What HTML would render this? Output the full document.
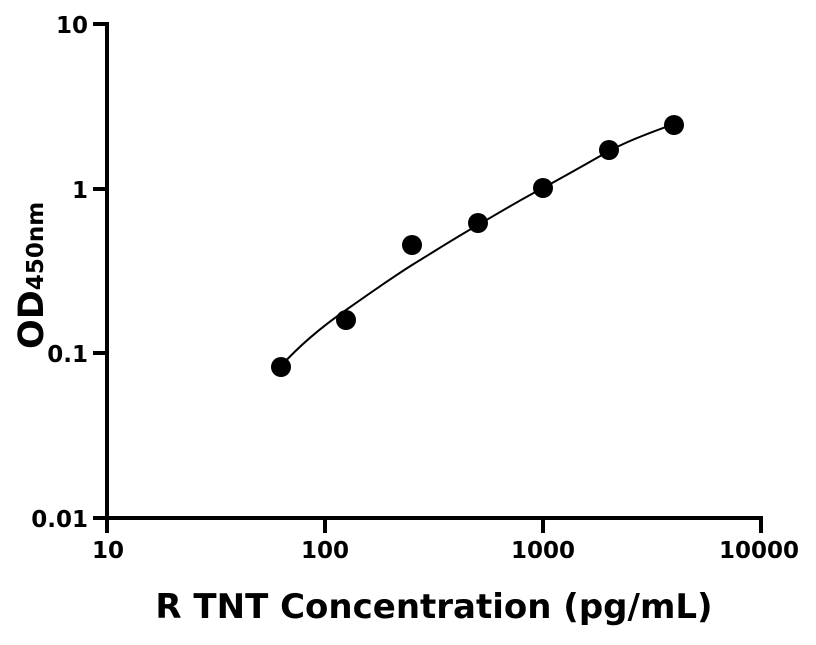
<!DOCTYPE html>
<html><head><style>
html,body{margin:0;padding:0;background:#fff}
svg text{font-family:"DejaVu Sans","Liberation Sans",sans-serif;font-weight:bold;fill:#000}
</style></head><body>
<svg width="816" height="640" viewBox="0 0 816 640">
<g stroke="#000" stroke-width="4" fill="none" stroke-linecap="square">
<line x1="107" y1="24" x2="107" y2="518"/>
<line x1="107" y1="518" x2="761" y2="518"/>
<line x1="95" y1="24" x2="107" y2="24"/>
<line x1="95" y1="189" x2="107" y2="189"/>
<line x1="95" y1="353" x2="107" y2="353"/>
<line x1="95" y1="518" x2="107" y2="518"/>
<line x1="107" y1="518" x2="107" y2="531"/>
<line x1="325" y1="518" x2="325" y2="531"/>
<line x1="543" y1="518" x2="543" y2="531"/>
<line x1="761" y1="518" x2="761" y2="531"/>
</g>
<g font-size="23" text-anchor="end">
<text x="88" y="33">10</text>
<text x="88" y="198">1</text>
<text x="88" y="362">0.1</text>
<text x="88" y="527">0.01</text>
</g>
<g font-size="23" text-anchor="middle">
<text x="108" y="558">10</text>
<text x="325" y="558">100</text>
<text x="543" y="558">1000</text>
<text x="759" y="558">10000</text>
</g>
<text x="434" y="618" font-size="34" text-anchor="middle">R TNT Concentration (pg/mL)</text>
<text transform="translate(43,349) rotate(-90)" font-size="35">OD<tspan font-size="23">450nm</tspan></text>
<path d="M281,366 C300,345 320,328 346,310 C370,293 390,279 412,265 C435,251 455,238 478,225 C500,212 520,200 543,188 C565,176 588,163 609,151 C630,140 652,132 674,124" stroke="#000" stroke-width="2" fill="none"/>
<g fill="#000">
<circle cx="281" cy="367" r="10"/>
<circle cx="346" cy="320" r="10"/>
<circle cx="412" cy="245" r="10"/>
<circle cx="478" cy="223" r="10"/>
<circle cx="543" cy="188" r="10"/>
<circle cx="609" cy="150" r="10"/>
<circle cx="674" cy="125" r="10"/>
</g>
</svg>
</body></html>
